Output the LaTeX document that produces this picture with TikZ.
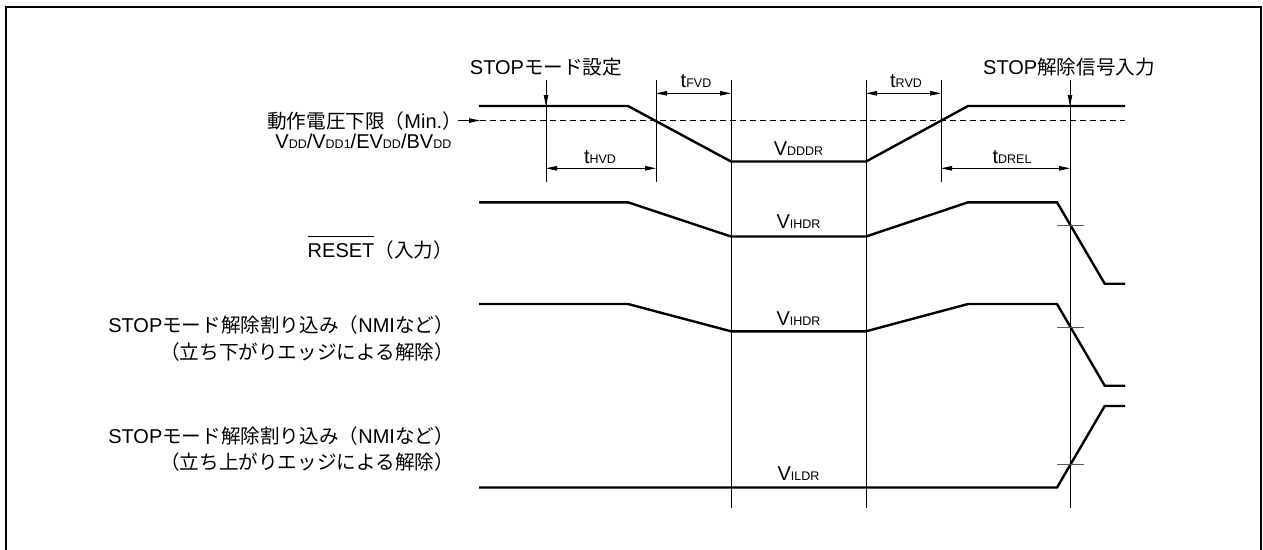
\documentclass[tikz,border=0pt]{standalone}
\usepackage{fontspec}
\setmainfont{Liberation Sans}
\newfontfamily\jpf{Noto Sans CJK JP}[Scale=0.98]
\usepackage{tikz}
\usetikzlibrary{positioning, arrows.meta, calc}

\newcommand{\jp}[1]{{\jpf #1}}
\newcommand{\sbs}[1]{{\fontsize{12.5}{12.5}\selectfont #1}}
\newcommand{\ovl}[1]{\leavevmode\vbox{\hrule height 1pt\kern 6pt\hbox{#1}}}

\begin{document}
\begin{tikzpicture}[x=1pt, y=-1pt, font=\fontsize{20}{24}\selectfont]

	\tikzstyle{sig}=[line width=2.4pt, line join=miter];
	\tikzstyle{guide}=[line width=0.9pt];
	\tikzstyle{arr}=[-{Triangle[length=11pt, width=4.5pt]}];
	\tikzstyle{dim}=[guide, {Triangle[length=11pt, width=4.5pt]}-{Triangle[length=11pt, width=4.5pt]}];
	\tikzstyle{xmark}=[line width=0.9pt, black!65];
	\tikzstyle{lbl}=[inner sep=0, anchor=base east];
	\tikzstyle{val}=[inner sep=0, anchor=base];

	\useasboundingbox (0,0) rectangle (1263,549);
	\draw [line width=2pt] (6,556) |- (1261,7) -- (1261,556);

	\node (stop set) [val] at (546,74) {STOP\jp{モード設定}};
	\node (stop rel) [val] at (1069,74) {STOP\jp{解除信号入力}};

	\node (vdd min) [lbl] at (462,128.3) {\jp{動作電圧下限（}Min.\jp{）}};
	\node (vdd name) [lbl] at (451.5,148) {V\sbs{DD}/V\sbs{DD1}/EV\sbs{DD}/BV\sbs{DD}};
	\node (reset) [lbl] at (453,257.3) {\ovl{RESET}\jp{（入力）}};
	\node (nmi f) [lbl] at (454,332) {STOP\jp{モード解除割り込み（}NMI\jp{など）}};
	\node (nmi f 2) [lbl, below=27pt of nmi f.base east, anchor=base east] {\jp{（立ち下がりエッジによる解除）}};
	\node (nmi r) [lbl] at (454,443) {STOP\jp{モード解除割り込み（}NMI\jp{など）}};
	\node (nmi r 2) [lbl, below=26.5pt of nmi r.base east, anchor=base east] {\jp{（立ち上がりエッジによる解除）}};

	\draw [guide] (546,80) -- (546,182);
	\draw [guide] (656,80) -- (656,182);
	\draw [guide] (731,80) -- (731,508);
	\draw [guide] (866,80) -- (866,508);
	\draw [guide] (941,80) -- (941,182);
	\draw [guide] (1070,80) -- (1070,508);

	\draw [guide, dash pattern=on 6pt off 4pt] (480,120.5) -- (1125,120.5);
	\coordinate (min a) at (458,120.5);
	\coordinate (min b) at (480,120.5);
	\draw [guide, arr] (min a) -- (min b);

	\coordinate (stop set top) at (546,80);
	\coordinate (stop set tip) at (546,106);
	\draw [guide, arr] (stop set top) -- (stop set tip);
	\coordinate (stop rel top) at (1070,80);
	\coordinate (stop rel tip) at (1070,106);
	\draw [guide, arr] (stop rel top) -- (stop rel tip);

	\coordinate (fvd a) at (656,93.3);
	\coordinate (fvd b) at (731,93.3);
	\draw [dim] (fvd a) -- (fvd b);
	\node (fvd) [val] at (696,87.3) {t\sbs{FVD}};
	\coordinate (rvd a) at (866,93.3);
	\coordinate (rvd b) at (941,93.3);
	\draw [dim] (rvd a) -- (rvd b);
	\node (rvd) [val] at (906,87.3) {t\sbs{RVD}};
	\coordinate (hvd a) at (546,168.3);
	\coordinate (hvd b) at (656,168.3);
	\draw [dim] (hvd a) -- (hvd b);
	\node (hvd) [val] at (600,163.3) {t\sbs{HVD}};
	\coordinate (drel a) at (941,168.3);
	\coordinate (drel b) at (1070,168.3);
	\draw [dim] (drel a) -- (drel b);
	\node (drel) [val] at (1012,163.3) {t\sbs{DREL}};

	\draw [sig] (479,106) -- (628,106) -- (731,161.5) -- (866,161.5) -- (968,106) -- (1125,106);
	\draw [sig] (479,202.3) -- (628,202.3) -- (731,236.5) -- (866,236.5) -- (968,202.3) -- (1057,202.3) -- (1104.7,283.7) -- (1125,283.7);
	\draw [sig] (479,304) -- (628,304) -- (731,331.3) -- (866,331.3) -- (968,304) -- (1057,304) -- (1104.7,385.7) -- (1125,385.7);
	\draw [sig] (479,487.5) -- (1057,487.5) -- (1104.7,406) -- (1125,406);

	\draw [xmark] (1057,225.7) -- (1084,225.7);
	\draw [xmark] (1057,327.7) -- (1084,327.7);
	\draw [xmark] (1057,464) -- (1084,464);

	\node (vdddr) [val] at (798.5,155) {V\sbs{DDDR}};
	\node (vihdr 1) [val] at (798.5,228.7) {V\sbs{IHDR}};
	\node (vihdr 2) [val] at (798.5,325) {V\sbs{IHDR}};
	\node (vildr) [val] at (798.5,480.7) {V\sbs{ILDR}};

\end{tikzpicture}
\end{document}
